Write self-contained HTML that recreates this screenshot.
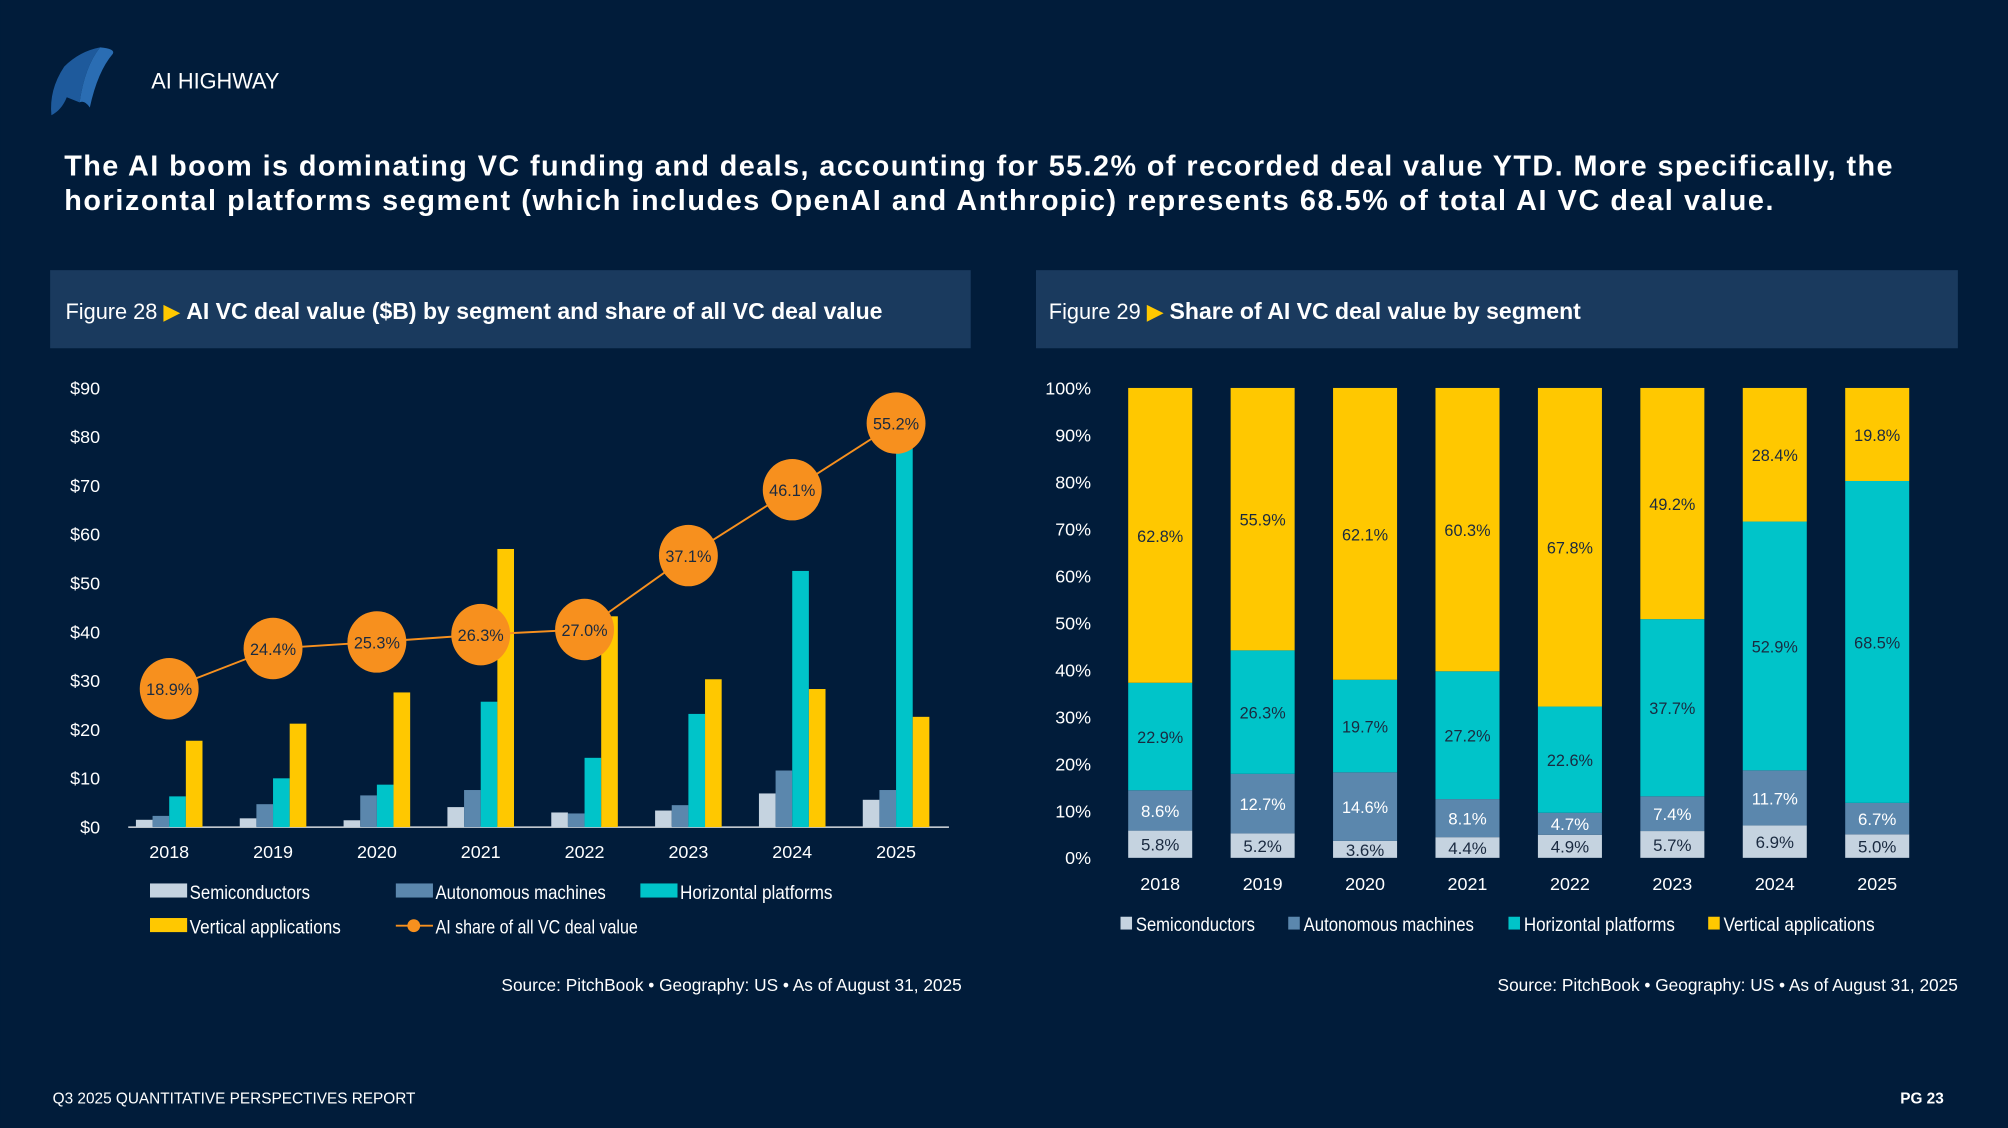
<!DOCTYPE html>
<html><head><meta charset="utf-8"><style>
html,body{margin:0;padding:0;background:#011c3a;}
svg{display:block;}
text{font-family:"Liberation Sans Narrow","Liberation Sans",sans-serif;}
.t{font-family:"Liberation Sans",sans-serif;}
</style></head><body>
<svg id="root" xmlns="http://www.w3.org/2000/svg" width="2008" height="1128" viewBox="0 0 1568 881">
<rect x="0" y="0" width="1568" height="881" fill="#011c3a"/>
<g>
<path d="M50,52 Q62,40 78,37 Q66,52 62,80 L52,76 Q48,86 40,90 Q38,70 50,52Z" fill="#1e5a9c"/>
<path d="M78,37 Q90,38 88,42 Q76,56 70,84 Q66,78 62,80 Q66,52 78,37Z" fill="#2a6db3"/>
</g>
<text class="t" x="118" y="69" font-size="17" fill="#fff">AI HIGHWAY</text>
<text class="t" x="50" y="137" font-size="22.5" font-weight="bold" fill="#fff" textLength="1428" lengthAdjust="spacing">The AI boom is dominating VC funding and deals, accounting for 55.2% of recorded deal value YTD. More specifically, the</text>
<text class="t" x="50" y="164" font-size="22.5" font-weight="bold" fill="#fff" textLength="1335" lengthAdjust="spacing">horizontal platforms segment (which includes OpenAI and Anthropic) represents 68.5% of total AI VC deal value.</text>

<rect x="39" y="211" width="719" height="61" fill="#1a3a5e"/>
<text x="51" y="249" font-size="17" fill="#fff">Figure 28 <tspan fill="#ffc800">▶</tspan> <tspan font-weight="bold" font-size="18">AI VC deal value ($B) by segment and share of all VC deal value</tspan></text>
<rect x="809" y="211" width="720" height="61" fill="#1a3a5e"/>
<text x="819" y="249" font-size="17" fill="#fff">Figure 29 <tspan fill="#ffc800">▶</tspan> <tspan font-weight="bold" font-size="18">Share of AI VC deal value by segment</tspan></text>

<g id="c1"></g>
<g id="c2"></g>

<text x="751" y="774" font-size="13.5" fill="#fff" text-anchor="end">Source: PitchBook  •  Geography: US  •  As of August 31, 2025</text>
<text x="1529" y="774" font-size="13.5" fill="#fff" text-anchor="end">Source: PitchBook  •  Geography: US  •  As of August 31, 2025</text>
<text class="t" x="41" y="862" font-size="12" fill="#fff">Q3 2025 QUANTITATIVE PERSPECTIVES REPORT</text>
<text class="t" x="1518" y="862" font-size="12" font-weight="bold" fill="#fff" text-anchor="end">PG 23</text>
</svg>
<script>
const years=['2018','2019','2020','2021','2022','2023','2024','2025'];
const semi=[1.5,1.8,1.4,4.1,3.0,3.4,6.9,5.6];
const auto=[2.3,4.7,6.5,7.6,2.8,4.5,11.6,7.6];
const horiz=[6.3,10.0,8.7,25.7,14.2,23.2,52.5,79.0];
const vert=[17.7,21.2,27.6,57.0,43.2,30.3,28.3,22.6];
const aiShare=[18.9,24.4,25.3,26.3,27.0,37.1,46.1,55.2];
const yTicks=['$0','$10','$20','$30','$40','$50','$60','$70','$80','$90'];
const pSemi=[5.8,5.2,3.6,4.4,4.9,5.7,6.9,5.0];
const pAuto=[8.6,12.7,14.6,8.1,4.7,7.4,11.7,6.7];
const pHoriz=[22.9,26.3,19.7,27.2,22.6,37.7,52.9,68.5];
const pVert=[62.8,55.9,62.1,60.3,67.8,49.2,28.4,19.8];
const pTicks=['0%','10%','20%','30%','40%','50%','60%','70%','80%','90%','100%'];

const NS='http://www.w3.org/2000/svg';
function mk(p,tag,a,txt){const e=document.createElementNS(NS,tag);for(const k in a)e.setAttribute(k,a[k]);if(txt!=null)e.textContent=txt;p.appendChild(e);return e;}
const colors=['#c5d3e0','#5b87ad','#00c4c9','#ffc800'];
const names=['Semiconductors','Autonomous machines','Horizontal platforms','Vertical applications'];

// Chart 28
const c1=document.getElementById('c1');
const y1=v=>646-v*(343/90);
const ys=p=>y1(p*1.5);
const x1=i=>132+i*81.1;
yTicks.forEach((t,i)=>{
  const e=mk(c1,'text',{x:78,y:y1(i*10)+5,'font-size':14,fill:'#fff','text-anchor':'end'},t);
  
  
});
const ax=mk(c1,'line',{x1:100,x2:741,y1:646,y2:646,stroke:'#fff','stroke-width':1});


[semi,auto,horiz,vert].forEach((s,k)=>{
  s.forEach((v,i)=>{
    const b=mk(c1,'rect',{x:x1(i)-26+k*13,y:y1(v),width:13,height:646-y1(v),fill:colors[k]});
    
    
  });
});
years.forEach((t,i)=>{
  const e=mk(c1,'text',{x:x1(i),y:670,'font-size':14,fill:'#fff','text-anchor':'middle'},t);
  
  
});
const pl=mk(c1,'polyline',{points:aiShare.map((p,i)=>x1(i)+','+ys(p)).join(' '),fill:'none',stroke:'#f7901e','stroke-width':1.5});


aiShare.forEach((p,i)=>{
  const c=mk(c1,'ellipse',{cx:x1(i),cy:ys(p),rx:23,ry:24,fill:'#f7901e'});
  
  
  const t=mk(c1,'text',{x:x1(i),y:ys(p)+5,'font-size':13,fill:'#1a2a40','text-anchor':'middle',textLength:36,lengthAdjust:'spacingAndGlyphs'},p.toFixed(1)+'%');
  
  
});
const leg1=[[117,696,0],[309,696,1],[500,696,2],[117,723,3]];
const legW=[94,133,119,118];
leg1.forEach(([x,y,k])=>{
  const r=mk(c1,'rect',{x:x,y:y-6,width:29,height:11,fill:colors[k]});
  
  
  const t=mk(c1,'text',{x:x+31,y:y+6,'font-size':15,fill:'#fff',textLength:legW[k],lengthAdjust:'spacingAndGlyphs'},names[k]);
  
  
});
const ll=mk(c1,'line',{x1:309,x2:338,y1:723,y2:723,stroke:'#f7901e','stroke-width':1.5});


const lc=mk(c1,'circle',{cx:323,cy:723,r:5,fill:'#f7901e'});


const lt=mk(c1,'text',{x:340,y:729,'font-size':15,fill:'#fff',textLength:158,lengthAdjust:'spacingAndGlyphs'},'AI share of all VC deal value');



// Chart 29
const c2=document.getElementById('c2');
const y2=v=>670-v*3.67;
const x2=i=>906+i*80;
pTicks.forEach((t,i)=>{
  const e=mk(c2,'text',{x:852,y:y2(i*10)+5,'font-size':14,fill:'#fff','text-anchor':'end'},t);
  
  
});
years.forEach((yr,i)=>{
  const vals=[pSemi[i],pAuto[i],pHoriz[i],pVert[i]];
  const tot=vals.reduce((a,b)=>a+b,0);
  let acc=0;
  vals.forEach((v,k)=>{
    const a0=acc/tot*100, a1=(acc+v)/tot*100; acc+=v;
    const r=mk(c2,'rect',{x:x2(i)-25,y:y2(a1),width:50,height:y2(a0)-y2(a1),fill:colors[k]});
    
    
    const t=mk(c2,'text',{x:x2(i),y:(y2(a0)+y2(a1))/2+5,'font-size':13,fill:k==1?'#fff':'#1a2a40','text-anchor':'middle',textLength:v>=10?36:30,lengthAdjust:'spacingAndGlyphs'},v.toFixed(1)+'%');
    
    
  });
  const e=mk(c2,'text',{x:x2(i),y:695,'font-size':14,fill:'#fff','text-anchor':'middle'},yr);
  
  
});
const leg2W=[93,133,118,118];
[[875,0],[1006,1],[1178,2],[1334,3]].forEach(([x,k])=>{
  const r=mk(c2,'rect',{x:x,y:716,width:9,height:10,fill:colors[k]});
  
  
  const t=mk(c2,'text',{x:x+12,y:727,'font-size':15,fill:'#fff',textLength:leg2W[k],lengthAdjust:'spacingAndGlyphs'},names[k]);
  
  
});
</script>
</body></html>
